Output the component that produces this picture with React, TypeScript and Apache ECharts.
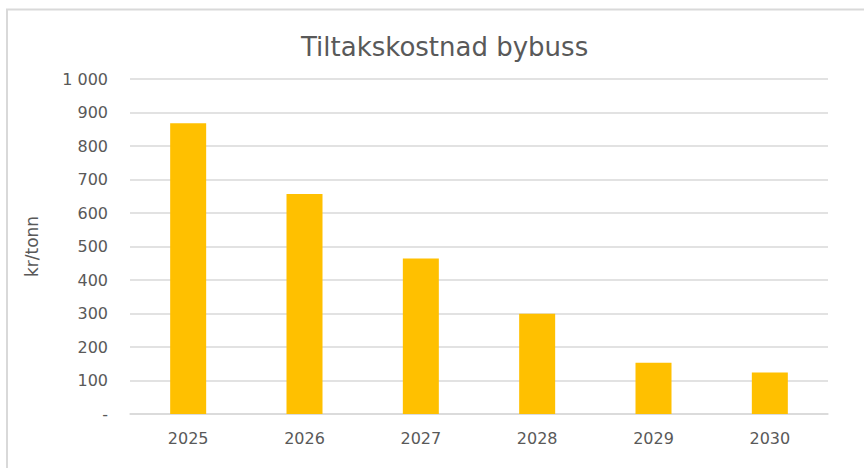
import React, { useEffect, useRef } from "react";
import * as echarts from "echarts";

const categories = ["2025", "2026", "2027", "2028", "2029", "2030"];
const values = [868, 657, 464, 299, 153, 124];
const yTicks = [0, 100, 200, 300, 400, 500, 600, 700, 800, 900, 1000];

export default function App() {
  const ref = useRef<HTMLDivElement>(null);
  useEffect(() => {
    if (!ref.current) return;
    const chart = echarts.init(ref.current, undefined, { renderer: "svg" });
    const font = "'DejaVu Sans', 'Open Sans', sans-serif";
    chart.setOption({
      animation: false,
      title: {
        text: "Tiltakskostnad bybuss",
        left: 296,
        top: 29,
        textStyle: { fontFamily: font, fontSize: 26, fontWeight: "normal", color: "#595959" },
      },
      graphic: [
        {
          type: "polyline",
          shape: { points: [[7, 468], [7, 9.5], [864, 9.5]] },
          style: { stroke: "#d9d9d9", lineWidth: 2, fill: "none" },
        },
      ],
      grid: { left: 130, right: 36, top: 79, bottom: 54 },
      xAxis: {
        type: "category",
        data: categories,
        axisLine: { show: true, lineStyle: { color: "#d9d9d9", width: 1.5 } },
        axisTick: { show: false },
        axisLabel: { fontFamily: font, fontSize: 16, color: "#595959", margin: 16 },
      },
      yAxis: {
        type: "value",
        min: yTicks[0],
        max: yTicks[yTicks.length - 1],
        interval: 100,
        name: "kr/tonn",
        nameLocation: "middle",
        nameRotate: 90,
        nameGap: 90,
        nameTextStyle: { fontFamily: font, fontSize: 17, color: "#595959" },
        axisLine: { show: false },
        axisTick: { show: false },
        splitLine: { lineStyle: { color: "#d9d9d9", width: 1.5 } },
        axisLabel: {
          fontFamily: font,
          fontSize: 16,
          color: "#595959",
          margin: 22,
          formatter: (v: number) => (v === 0 ? "-" : v >= 1000 ? "1 000" : String(v)),
        },
      },
      series: [
        {
          type: "bar",
          data: values,
          barWidth: 36,
          itemStyle: { color: "#FFC000" },
        },
      ],
    });
    return () => chart.dispose();
  }, []);
  return <div ref={ref} style={{ width: 864, height: 468, position: "absolute", left: 0, top: 0 }} />;
}
